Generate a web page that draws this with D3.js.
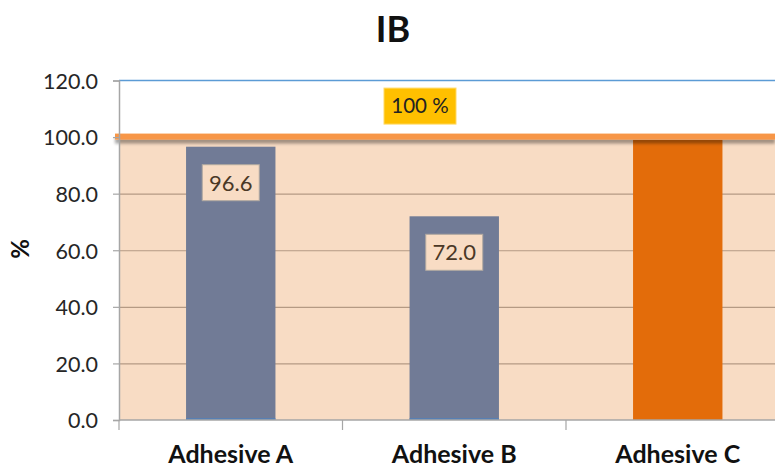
<!DOCTYPE html>
<html>
<head>
<meta charset="utf-8">
<script src="https://cdn.jsdelivr.net/npm/d3@7"></script>
<style>
  html, body { margin: 0; padding: 0; background: #fff; }
  svg { display: block; font-family: "Lato", "Open Sans", sans-serif; }
</style>
</head>
<body>
<svg id="chart" width="775" height="469"></svg>
<script>
// Chart data
const categories = ["Adhesive A", "Adhesive B", "Adhesive C"];
const values = [96.6, 72.0, 99.0];
const showLabel = [true, true, false];
const barColors = ["#717b96", "#717b96", "#e36c0a"];
const yTicks = [0, 20, 40, 60, 80, 100, 120];
const targetValue = 100;
const targetLabel = "100 %";
const title = "IB";
const yTitle = "%";

const svg = d3.select("#chart");
const W = 775, H = 469;
const plotLeft = 119, plotRight = 789.5, plotTop = 80.5, plotBottom = 420;

const x = d3.scaleBand().domain(categories).range([plotLeft, plotRight]).paddingInner(0.6).paddingOuter(0.3);
const y = d3.scaleLinear().domain([0, 120]).range([plotBottom, plotTop]);

// Soft shadow under the target line
const defs = svg.append("defs");
const sh = defs.append("filter").attr("id", "lineShadow")
  .attr("filterUnits", "userSpaceOnUse")
  .attr("x", 0).attr("y", y(targetValue) - 12).attr("width", W).attr("height", 30);
sh.append("feGaussianBlur").attr("in", "SourceAlpha").attr("stdDeviation", 1.8);
sh.append("feOffset").attr("dy", 3.5).attr("result", "off");
sh.append("feComponentTransfer").attr("in", "off").attr("result", "shadow")
  .append("feFuncA").attr("type", "linear").attr("slope", 0.35);
const m = sh.append("feMerge");
m.append("feMergeNode").attr("in", "shadow");
m.append("feMergeNode").attr("in", "SourceGraphic");

// Shaded zone below the target
svg.append("rect")
  .attr("x", plotLeft).attr("y", y(targetValue))
  .attr("width", W - plotLeft).attr("height", y(0) - y(targetValue))
  .attr("fill", "#f8dcc4");

// Horizontal gridlines
svg.append("g").selectAll("line")
  .data(yTicks.filter(d => d > 0 && d < targetValue))
  .join("line")
  .attr("x1", plotLeft).attr("x2", W)
  .attr("y1", d => y(d) + 0.5).attr("y2", d => y(d) + 0.5)
  .attr("stroke", "#b59a84").attr("stroke-width", 1.2);

// Top border of the plot area
svg.append("line")
  .attr("x1", plotLeft).attr("x2", W)
  .attr("y1", y(120)).attr("y2", y(120))
  .attr("stroke", "#5b9bd5").attr("stroke-width", 1.5);

// Bars
svg.append("g").selectAll("rect")
  .data(categories)
  .join("rect")
  .attr("x", d => x(d))
  .attr("y", (d, i) => y(values[i]))
  .attr("width", x.bandwidth())
  .attr("height", (d, i) => y(0) - y(values[i]))
  .attr("fill", (d, i) => barColors[i]);

// Bar base accent
svg.append("g").selectAll("line")
  .data(categories.filter((d, i) => barColors[i] === "#717b96"))
  .join("line")
  .attr("x1", d => x(d)).attr("x2", d => x(d) + x.bandwidth())
  .attr("y1", y(0) - 1).attr("y2", y(0) - 1)
  .attr("stroke", "#4f81bd").attr("stroke-width", 1.5);

// Target line
svg.append("rect")
  .attr("x", plotLeft - 4).attr("y", y(targetValue) - 3.5)
  .attr("width", W - plotLeft + 4).attr("height", 6)
  .attr("fill", "#f79646")
  .attr("filter", "url(#lineShadow)");

// Axes
const yAxis = d3.axisLeft(y).tickValues(yTicks).tickFormat(d3.format(".1f")).tickSize(6).tickPadding(15);
const gy = svg.append("g").attr("transform", `translate(${plotLeft},0)`).call(yAxis);
gy.select(".domain").attr("stroke", "#a6a6a6").attr("stroke-width", 1.5);
gy.selectAll(".tick line").attr("stroke", "#a6a6a6").attr("stroke-width", 1.2);
gy.selectAll(".tick text").attr("font-size", 21.5).attr("fill", "#262626").attr("dy", "0.36em")
  .attr("font-family", "Lato, 'Open Sans', sans-serif");

const gx = svg.append("g").attr("transform", `translate(0,${plotBottom})`);
gx.append("line").attr("x1", plotLeft).attr("x2", W).attr("y1", 0).attr("y2", 0)
  .attr("stroke", "#a6a6a6").attr("stroke-width", 1.5);
const step = x.step();
gx.selectAll(".sep").data(d3.range(categories.length + 1)).join("line")
  .attr("class", "sep")
  .attr("x1", i => plotLeft + i * step).attr("x2", i => plotLeft + i * step)
  .attr("y1", 0).attr("y2", 10)
  .attr("stroke", "#a6a6a6").attr("stroke-width", 1.2);
gx.selectAll("text").data(categories).join("text")
  .attr("x", d => x(d) + x.bandwidth() / 2)
  .attr("y", 43)
  .attr("text-anchor", "middle")
  .attr("font-size", 25).attr("font-weight", "bold").attr("fill", "#111")
  .text(d => d);

// Value labels inside the bars
const lab = svg.append("g").selectAll("g")
  .data(categories.filter((d, i) => showLabel[i]))
  .join("g")
  .attr("transform", d => `translate(${x(d) + x.bandwidth() / 2},${y(values[categories.indexOf(d)]) + 36})`);
lab.append("rect")
  .attr("x", -28.5).attr("y", -18).attr("width", 57).attr("height", 36)
  .attr("fill", "#f8dcc4").attr("stroke", "#b0a8a0").attr("stroke-width", 1);
lab.append("text")
  .attr("text-anchor", "middle").attr("dy", "0.36em")
  .attr("font-size", 22).attr("fill", "#4a3826")
  .text(d => d3.format(".1f")(values[categories.indexOf(d)]));

// Target label
const tl = svg.append("g").attr("transform", `translate(420,${y(targetValue) - 31})`);
tl.append("rect").attr("x", -36).attr("y", -18).attr("width", 72).attr("height", 36)
  .attr("fill", "#ffc000").attr("stroke", "#ffd966").attr("stroke-width", 1);
tl.append("text").attr("text-anchor", "middle").attr("dy", "0.36em")
  .attr("font-size", 20.5).attr("fill", "#222").text(targetLabel);

// Titles
svg.append("text").attr("x", 393).attr("y", 42).attr("text-anchor", "middle")
  .attr("font-size", 36).attr("font-weight", "bold").attr("fill", "#111").text(title);
svg.append("text").attr("transform", "translate(29,249) rotate(-90)")
  .attr("text-anchor", "middle").attr("font-size", 24).attr("font-weight", "bold")
  .attr("fill", "#111").text(yTitle);
</script>
</body>
</html>
